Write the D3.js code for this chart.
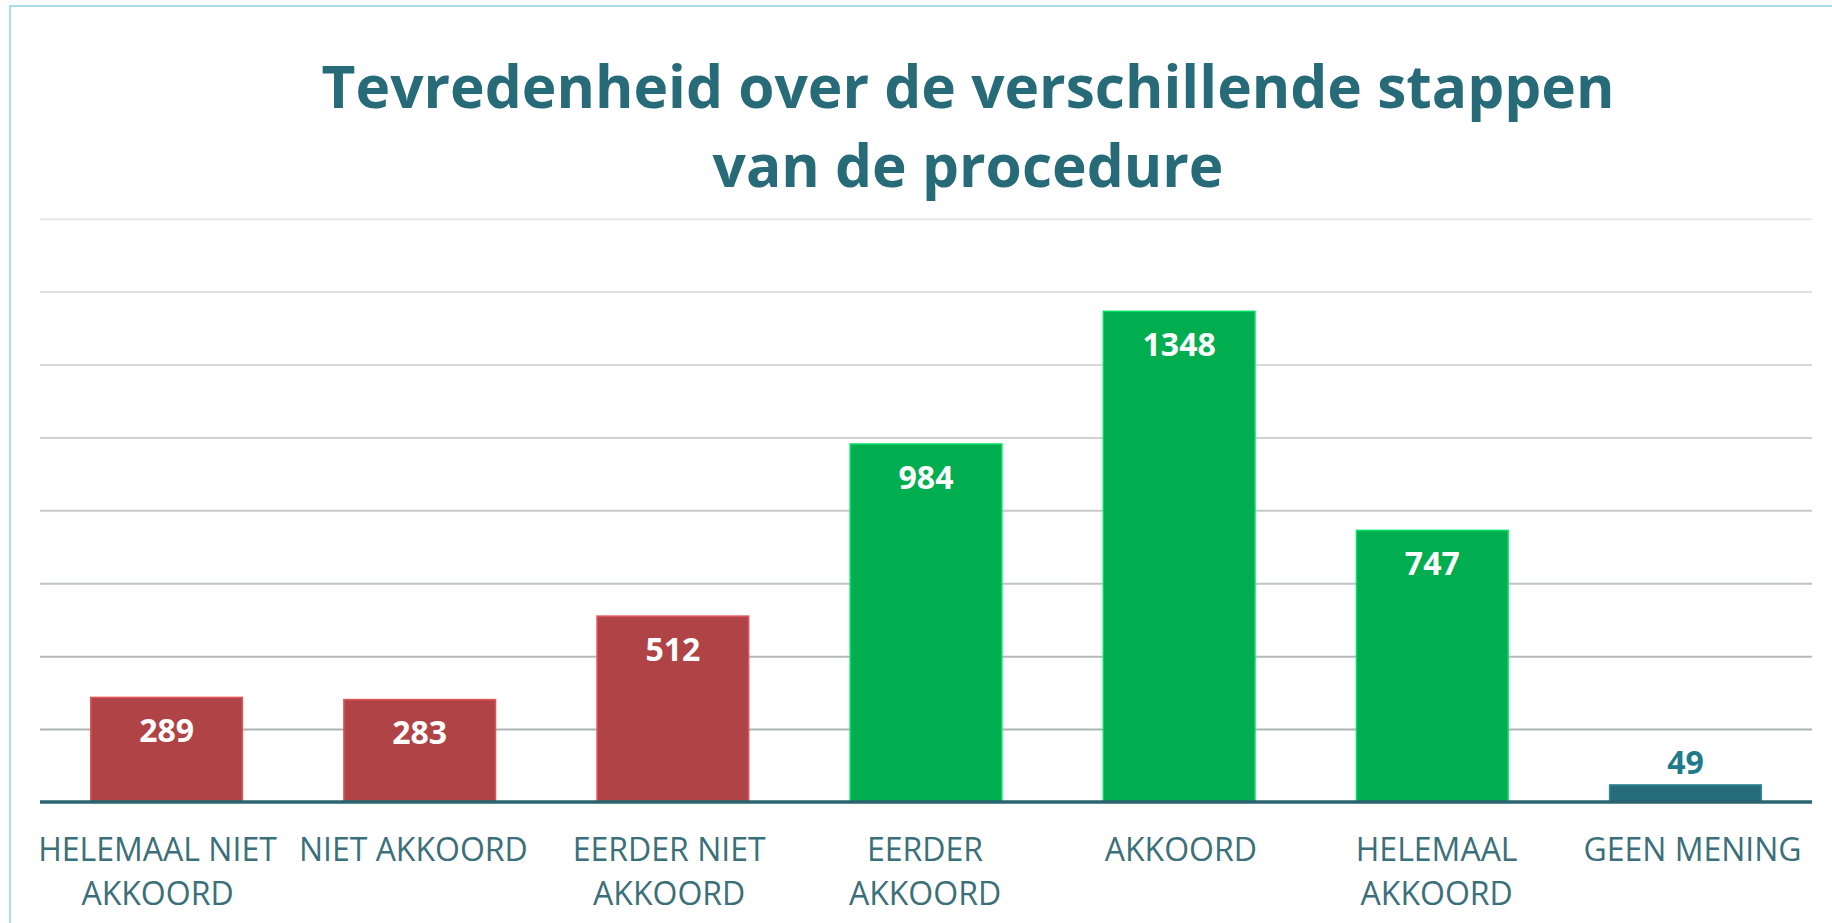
<!DOCTYPE html>
<html>
<head>
<meta charset="utf-8">
<script src="https://cdn.jsdelivr.net/npm/d3@7"></script>
<style>
  html, body { margin: 0; padding: 0; background: #fff; overflow: hidden; }
  svg { display: block; font-family: "Open Sans", sans-serif; }
</style>
</head>
<body>
<svg id="svg" width="1832" height="923"></svg>
<script>
var categories = ["HELEMAAL NIET AKKOORD", "NIET AKKOORD", "EERDER NIET AKKOORD",
                  "EERDER AKKOORD", "AKKOORD", "HELEMAAL AKKOORD", "GEEN MENING"];
var tickLines = [["HELEMAAL NIET", "AKKOORD"], ["NIET AKKOORD"], ["EERDER NIET", "AKKOORD"],
                 ["EERDER", "AKKOORD"], ["AKKOORD"], ["HELEMAAL", "AKKOORD"], ["GEEN MENING"]];
var counts = [289, 283, 512, 984, 1348, 747, 49];
var groups = ["neg", "neg", "neg", "pos", "pos", "pos", "none"];
var yTicks = [0, 200, 400, 600, 800, 1000, 1200, 1400, 1600];
var titleLines = ["Tevredenheid over de verschillende stappen", "van de procedure"];

var svg = d3.select("#svg");
var plot = {left: 40, right: 1812, top: 218.7, bottom: 802};
var font = "'Open Sans', sans-serif";

var groupColor = {neg: "#b04346", pos: "#00ae4f", none: "#276c7a"};

// outer frame (only top and left edges are in view)
svg.append("rect")
    .attr("x", 10).attr("y", 6)
    .attr("width", 1900).attr("height", 1000)
    .attr("fill", "none")
    .attr("stroke", "#a9dce8")
    .attr("stroke-width", 2);

var x = d3.scaleBand()
    .domain(categories)
    .range([plot.left, plot.right])
    .paddingInner(0.395)
    .paddingOuter(0.1975);

// the category labels sit on a slightly wider spread than the bars
var xLabel = d3.scalePoint()
    .domain(categories)
    .range([157, 1692]);

var y = d3.scaleLinear()
    .domain([0, 1600])
    .range([plot.bottom, plot.top]);

// gridlines get darker towards the baseline
var gridColor = d3.scaleLinear().domain([1600, 0]).range(["#e8e8e8", "#a3abad"]);

var grid = svg.append("g")
    .attr("class", "grid")
    .attr("transform", "translate(" + plot.left + ",0)")
    .call(d3.axisLeft(y)
        .tickValues(yTicks.filter(function(d) { return d > 0; }))
        .tickSize(-(plot.right - plot.left))
        .tickFormat(""));
grid.select(".domain").remove();
grid.selectAll(".tick line")
    .attr("stroke", function(d) { return gridColor(d); })
    .attr("stroke-width", 2);

var bars = svg.append("g");
bars.selectAll("rect")
    .data(counts)
    .enter().append("rect")
    .attr("x", function(d, i) { return x(categories[i]) + 0.75; })
    .attr("y", function(d) { return y(d) + 0.75; })
    .attr("width", x.bandwidth() - 1.5)
    .attr("height", function(d) { return y(0) - y(d) - 0.75; })
    .attr("fill", function(d, i) { return groupColor[groups[i]]; })
    .attr("stroke", function(d, i) { return d3.color(groupColor[groups[i]]).brighter(0.7); })
    .attr("stroke-width", 1.5);

// value labels: inside tall bars, above the small one
bars.selectAll("text")
    .data(counts)
    .enter().append("text")
    .attr("x", function(d, i) { return x(categories[i]) + x.bandwidth() / 2; })
    .attr("y", function(d) { return (y(0) - y(d)) > 60 ? y(d) + 45.5 : y(d) - 10; })
    .attr("text-anchor", "middle")
    .attr("font-family", font)
    .attr("font-size", 32)
    .attr("font-weight", 700)
    .attr("fill", function(d) { return (y(0) - y(d)) > 60 ? "#ffffff" : "#1f7a8c"; })
    .text(function(d) { return d; });

// baseline / x axis
var xAxis = svg.append("g")
    .attr("transform", "translate(0," + plot.bottom + ")")
    .call(d3.axisBottom(xLabel).tickSize(0).tickFormat(""));
xAxis.attr("font-family", font);
xAxis.select(".domain")
    .attr("d", "M" + plot.left + ",0H" + plot.right)
    .attr("stroke", "#2a6470")
    .attr("stroke-width", 3.5);

xAxis.selectAll(".tick").each(function(d, i) {
    var t = d3.select(this).append("text")
        .attr("text-anchor", "middle")
        .attr("font-family", font)
        .attr("font-size", 32)
        .attr("fill", "#3b6f7a")
        .attr("y", 59);
    tickLines[i].forEach(function(line, j) {
        t.append("tspan").attr("x", 0).attr("dy", j === 0 ? 0 : 44.3).text(line);
    });
});

// title
var title = svg.append("text")
    .attr("text-anchor", "middle")
    .attr("font-family", font)
    .attr("font-size", 58.6)
    .attr("font-weight", 700)
    .attr("fill", "#276a78")
    .attr("y", 107.5);
titleLines.forEach(function(line, j) {
    title.append("tspan").attr("x", 968).attr("dy", j === 0 ? 0 : 79.4).text(line);
});
</script>
</body>
</html>
